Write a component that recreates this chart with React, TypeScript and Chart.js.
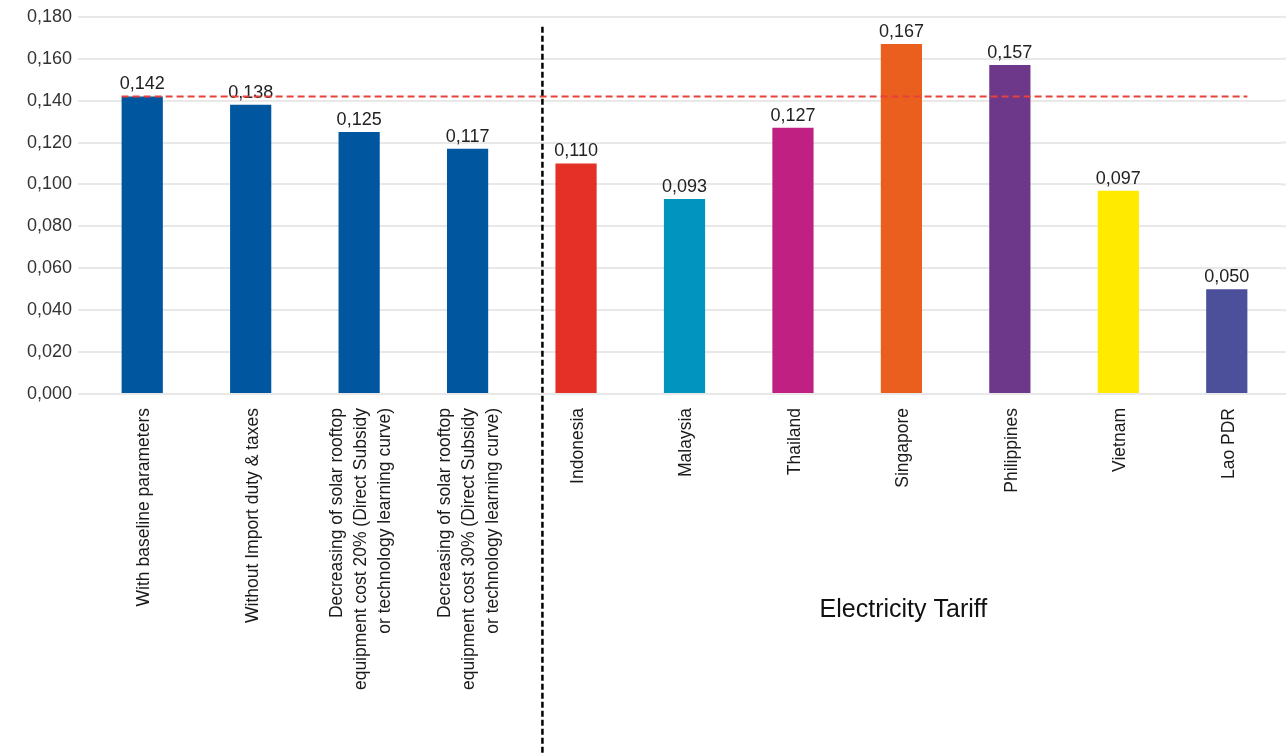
import React, { useEffect, useRef } from "react";
import { Chart, registerables } from "chart.js";

Chart.register(...registerables);

const categories: (string | string[])[] = [
  "With baseline parameters",
  "Without Import duty & taxes",
  ["Decreasing of solar rooftop", "equipment cost 20% (Direct Subsidy", "or technology learning curve)"],
  ["Decreasing of solar rooftop", "equipment cost 30% (Direct Subsidy", "or technology learning curve)"],
  "Indonesia",
  "Malaysia",
  "Thailand",
  "Singapore",
  "Philippines",
  "Vietnam",
  "Lao PDR",
];

const values: number[] = [0.142, 0.138, 0.125, 0.117, 0.11, 0.093, 0.127, 0.167, 0.157, 0.097, 0.05];

const barColors: string[] = [
  "#0057A0",
  "#0057A0",
  "#0057A0",
  "#0057A0",
  "#E53027",
  "#0094BF",
  "#C12083",
  "#EB5F1E",
  "#6D3889",
  "#FFEA00",
  "#4C4F99",
];

const baselineValue = 0.142;
const sectionTitle = "Electricity Tariff";
const yTicks = { min: 0, max: 0.18, step: 0.02 };

const FONT = "'Liberation Sans', Arial, sans-serif";
const fmt = (v: number) => v.toFixed(3).replace(".", ",");

const overlayPlugin = {
  id: "overlay",
  beforeDatasetsDraw(chart: any) {
    const { ctx, chartArea, scales } = chart;
    const y = scales.y;
    // extend grid lines to the right edge
    ctx.save();
    ctx.strokeStyle = "#e8e8e8";
    ctx.lineWidth = 2;
    for (let v = yTicks.min; v <= yTicks.max + 1e-9; v += yTicks.step) {
      const py = y.getPixelForValue(v);
      ctx.beginPath();
      ctx.moveTo(chartArea.right, py);
      ctx.lineTo(chart.width, py);
      ctx.stroke();
    }
    ctx.restore();
  },
  afterDatasetsDraw(chart: any) {
    const { ctx, chartArea, scales } = chart;
    const x = scales.x;
    const y = scales.y;
    const meta = chart.getDatasetMeta(0);
    const bars = meta.data;

    // category labels (rotated, lines centred on the tick)
    ctx.save();
    ctx.font = `17.5px ${FONT}`;
    ctx.fillStyle = "#1a1a1a";
    ctx.textAlign = "right";
    ctx.textBaseline = "middle";
    const lineGap = 24;
    categories.forEach((lab, i) => {
      const lines = Array.isArray(lab) ? lab : [lab];
      const px = x.getPixelForTick(i);
      lines.forEach((ln, j) => {
        const cx = px + 2 + (j - (lines.length - 1) / 2) * lineGap;
        ctx.save();
        ctx.translate(cx, chartArea.bottom + 14);
        ctx.rotate(-Math.PI / 2);
        ctx.fillText(ln, 0, 0);
        ctx.restore();
      });
    });
    ctx.restore();

    // value labels
    ctx.save();
    ctx.font = `18px ${FONT}`;
    ctx.fillStyle = "#222";
    ctx.textAlign = "center";
    ctx.textBaseline = "alphabetic";
    bars.forEach((b: any, i: number) => {
      ctx.fillText(fmt(values[i]), b.x, b.y - 7);
    });
    ctx.restore();

    // red dashed baseline
    const first = bars[0];
    const last = bars[bars.length - 1];
    const ry = y.getPixelForValue(baselineValue);
    ctx.save();
    ctx.strokeStyle = "#E8403A";
    ctx.lineWidth = 2;
    ctx.setLineDash([7, 4]);
    ctx.beginPath();
    ctx.moveTo(first.x - first.width / 2, ry);
    ctx.lineTo(last.x + last.width / 2, ry);
    ctx.stroke();
    ctx.restore();

    // black dashed divider
    const p3 = x.getPixelForValue(3);
    const p4 = x.getPixelForValue(4);
    const dx = p3 + 0.69 * (p4 - p3);
    ctx.save();
    ctx.strokeStyle = "#000";
    ctx.lineWidth = 2.5;
    ctx.setLineDash([6, 3]);
    ctx.beginPath();
    ctx.moveTo(dx, chartArea.top + 10);
    ctx.lineTo(dx, chart.height);
    ctx.stroke();
    ctx.restore();

    // section title
    ctx.save();
    ctx.font = `25px ${FONT}`;
    ctx.fillStyle = "#111";
    ctx.textAlign = "center";
    ctx.textBaseline = "middle";
    ctx.fillText(sectionTitle, x.getPixelForValue(7) + 2, 610);
    ctx.restore();
  },
};

export default function App() {
  const canvasRef = useRef<HTMLCanvasElement | null>(null);

  useEffect(() => {
    if (!canvasRef.current) return;
    const chart = new Chart(canvasRef.current, {
      type: "bar",
      data: {
        labels: categories,
        datasets: [
          {
            data: values,
            backgroundColor: barColors,
            borderWidth: 0,
            barPercentage: 0.38,
            categoryPercentage: 1,
          },
        ],
      },
      options: {
        animation: false,
        responsive: true,
        maintainAspectRatio: false,
        layout: { padding: { top: 16, right: 5, left: 0, bottom: 0 } },
        plugins: {
          legend: { display: false },
          tooltip: { enabled: false },
        },
        scales: {
          x: {
            grid: { display: false, drawTicks: false },
            border: { display: false },
            ticks: { display: false, autoSkip: false },
            afterFit(scale: any) {
              scale.height = 755 - 394;
            },
          },
          y: {
            min: yTicks.min,
            max: yTicks.max,
            grid: { color: "#e8e8e8", lineWidth: 2, tickLength: 10, drawTicks: true },
            border: { display: false },
            ticks: {
              stepSize: yTicks.step,
              padding: 6,
              color: "#333",
              font: { family: FONT, size: 18 },
              callback: (v: any) => fmt(Number(v)),
            },
            afterFit(scale: any) {
              scale.width = 88;
            },
          },
        },
      },
      plugins: [overlayPlugin],
    });
    return () => chart.destroy();
  }, []);

  return (
    <div style={{ position: "fixed", left: 0, top: 0, width: 1286, height: 755, background: "#fff" }}>
      <canvas ref={canvasRef} />
    </div>
  );
}
